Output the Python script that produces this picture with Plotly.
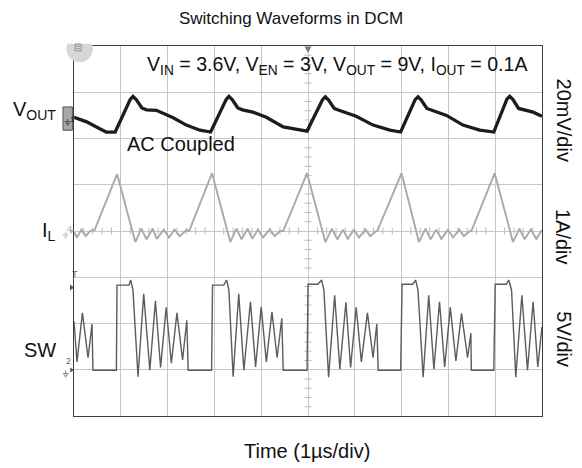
import numpy as np
import plotly.graph_objects as go

# ---------------- data (time in µs at 1 µs/div, amplitude in screen divisions) ----------------
vout_t = [0.00, 0.27, 0.55, 0.69, 0.88,
          1.20, 1.26, 1.33, 1.45, 1.55, 1.76, 2.12, 2.40, 2.69, 2.92,
          3.25, 3.31, 3.38, 3.50, 3.60, 3.82, 4.11, 4.47, 4.82, 4.98,
          5.31, 5.37, 5.44, 5.56, 5.66, 6.03, 6.39, 6.75, 6.98,
          7.29, 7.35, 7.42, 7.54, 7.64, 7.96, 8.31, 8.67, 8.97,
          9.25, 9.31, 9.38, 9.50, 9.60, 9.81, 10.0]
vout_v = [6.46, 6.36, 6.21, 6.14, 6.14,
          6.84, 6.91, 6.84, 6.66, 6.62, 6.61, 6.45, 6.29, 6.18, 6.14,
          6.84, 6.91, 6.84, 6.66, 6.62, 6.57, 6.46, 6.25, 6.18, 6.16,
          6.84, 6.90, 6.83, 6.65, 6.61, 6.48, 6.29, 6.18, 6.14,
          6.84, 6.90, 6.83, 6.65, 6.61, 6.50, 6.29, 6.18, 6.14,
          6.85, 6.91, 6.84, 6.65, 6.62, 6.57, 6.48]

il_t = [0.00, 0.064, 0.16, 0.25, 0.35, 0.44,
        0.92, 1.31,
        1.44, 1.55, 1.68, 1.77, 1.92, 2.03, 2.15, 2.26, 2.40, 2.46,
        2.95, 3.34,
        3.47, 3.58, 3.71, 3.81, 3.93, 4.04, 4.18, 4.29, 4.40, 4.47,
        4.98, 5.37,
        5.51, 5.63, 5.75, 5.85, 5.98, 6.09, 6.23, 6.33, 6.46, 6.48,
        7.00, 7.37,
        7.51, 7.62, 7.74, 7.85, 7.99, 8.10, 8.23, 8.33, 8.46, 8.49,
        8.99, 9.38,
        9.52, 9.63, 9.76, 9.88, 10.0]
il_v = [3.98, 3.86, 4.03, 3.89, 4.01, 4.02,
        5.23, 3.76,
        4.05, 3.82, 4.05, 3.83, 4.03, 3.86, 4.03, 3.89, 4.02, 4.00,
        5.25, 3.76,
        4.05, 3.82, 4.05, 3.83, 4.03, 3.86, 4.03, 3.89, 4.00, 4.00,
        5.25, 3.76,
        4.05, 3.82, 4.03, 3.83, 4.03, 3.86, 4.03, 3.89, 4.00, 4.00,
        5.25, 3.76,
        4.05, 3.82, 4.03, 3.83, 4.03, 3.86, 4.03, 3.89, 4.00, 4.00,
        5.25, 3.76,
        4.05, 3.82, 4.03, 3.83, 4.02]

sw_t = [0.00, 0.064, 0.18, 0.30, 0.385, 0.405,
        0.906, 0.919, 1.175, 1.21, 1.26,
        1.368, 1.49, 1.62, 1.74, 1.85, 1.97, 2.08, 2.20, 2.32, 2.41, 2.44,
        2.94, 2.96, 3.20, 3.26, 3.31,
        3.40, 3.52, 3.63, 3.77, 3.88, 4.00, 4.11, 4.23, 4.34, 4.44, 4.47,
        4.98, 5.00, 5.21, 5.29, 5.34,
        5.44, 5.57, 5.68, 5.81, 5.91, 6.03, 6.14, 6.27, 6.39, 6.47, 6.50,
        6.98, 7.01, 7.24, 7.30, 7.35,
        7.46, 7.58, 7.69, 7.81, 7.92, 8.04, 8.16, 8.28, 8.41, 8.48, 8.49,
        8.97, 9.00, 9.24, 9.29, 9.35,
        9.44, 9.57, 9.69, 9.81, 9.91, 10.0]
sw_v = [2.05, 1.17, 2.23, 1.26, 1.99, 0.99,
        0.99, 2.83, 2.83, 2.94, 2.72,
        0.85, 2.64, 0.99, 2.49, 1.05, 2.35, 1.14, 2.23, 1.21, 2.07, 0.99,
        0.99, 2.83, 2.83, 2.94, 2.72,
        0.85, 2.64, 0.99, 2.47, 1.06, 2.36, 1.17, 2.25, 1.26, 2.11, 0.99,
        0.99, 2.85, 2.85, 2.94, 2.72,
        0.84, 2.61, 1.01, 2.46, 1.05, 2.35, 1.17, 2.23, 1.26, 1.99, 0.99,
        0.99, 2.85, 2.85, 2.94, 2.72,
        0.84, 2.61, 1.01, 2.47, 1.06, 2.35, 1.19, 2.22, 1.26, 1.79, 0.99,
        0.99, 2.85, 2.85, 2.94, 2.72,
        0.84, 2.61, 0.99, 2.47, 1.06, 1.93]

n_xdiv, n_ydiv = 10, 8
title_text = "Switching Waveforms in DCM"
cond_text = "V<sub>IN</sub> = 3.6V, V<sub>EN</sub> = 3V, V<sub>OUT</sub> = 9V, I<sub>OUT</sub> = 0.1A"
x_label = "Time (1µs/div)"
ch_names = ["V<sub>OUT</sub>", "I<sub>L</sub>", "SW"]
ch_scales = ["20mV/div", "1A/div", "5V/div"]

# ---------------- layout geometry ----------------
FW, FH = 582, 468
L, R, T, B = 74.3, 542.3, 45.7, 416.0
FONT = "Liberation Sans, Arial, sans-serif"


def px(x):  # pixel -> paper x
    return (x - L) / (R - L)


def py(y):  # pixel -> paper y
    return (B - y) / (B - T)


fig = go.Figure()

# minor ticks on the centre graticule lines
mx = [v for v in np.arange(0.2, n_xdiv, 0.2) if abs(v - round(v)) > 1e-6]
my = [v for v in np.arange(0.2, n_ydiv, 0.2) if abs(v - round(v)) > 1e-6]
fig.add_trace(go.Scatter(x=mx, y=[n_ydiv / 2] * len(mx), mode="markers",
                         marker=dict(symbol="line-ns", size=5, line=dict(width=1, color="#bdbdbd")),
                         hoverinfo="skip"))
fig.add_trace(go.Scatter(x=[n_xdiv / 2] * len(my), y=my, mode="markers",
                         marker=dict(symbol="line-ew", size=5, line=dict(width=1, color="#bdbdbd")),
                         hoverinfo="skip"))

fig.add_trace(go.Scatter(x=il_t, y=il_v, mode="lines", line=dict(color="#a9a9a9", width=1.9)))
fig.add_trace(go.Scatter(x=sw_t, y=sw_v, mode="lines", line=dict(color="#5c5c5c", width=1.4)))
fig.add_trace(go.Scatter(x=vout_t, y=vout_v, mode="lines", line=dict(color="#1c1c1c", width=3.3)))

shapes = []
# top-left scope badge
shapes.append(dict(type="circle", xref="paper", yref="paper", x0=px(66.7), x1=px(93.3),
                   y0=py(61.8), y1=py(35.2), fillcolor="#d6d6d6", line=dict(width=0), layer="above"))
shapes.append(dict(type="rect", xref="paper", yref="paper", x0=px(60), x1=px(100),
                   y0=py(43.4), y1=py(30), fillcolor="white", line=dict(width=0), layer="above"))
shapes.append(dict(type="rect", xref="paper", yref="paper", x0=px(75.5), x1=px(81.5),
                   y0=py(50.5), y1=py(43.8), fillcolor="rgba(0,0,0,0)", line=dict(width=1, color="#8a8a8a"),
                   layer="above"))
for yy in (46.0, 48.2):
    shapes.append(dict(type="line", xref="paper", yref="paper", x0=px(76.7), x1=px(80.3),
                       y0=py(yy), y1=py(yy), line=dict(width=0.8, color="#8a8a8a"), layer="above"))
# trigger position marker on top edge
shapes.append(dict(type="path", xref="paper", yref="paper",
                   path=f"M {px(304.8)} {py(46.2)} L {px(311.8)} {py(46.2)} L {px(308.3)} {py(52.5)} Z",
                   fillcolor="#7a7a7a", line=dict(width=0), layer="above"))
# channel 1 (VOUT) badge
shapes.append(dict(type="rect", xref="paper", yref="paper", x0=px(63.3), x1=px(72.7),
                   y0=py(130), y1=py(106.7), fillcolor="#a8a8a8", line=dict(width=1, color="#555"),
                   layer="above"))
shapes.append(dict(type="path", xref="paper", yref="paper",
                   path=f"M {px(72.7)} {py(114.5)} L {px(75.5)} {py(117)} L {px(72.7)} {py(119.5)} Z",
                   fillcolor="#444", line=dict(width=0), layer="above"))


def ground(xc, ytop, col):
    out = [dict(type="line", xref="paper", yref="paper", x0=px(xc), x1=px(xc), y0=py(ytop - 3), y1=py(ytop),
                line=dict(width=0.8, color=col), layer="above")]
    for i, hw in enumerate((3.0, 2.0, 1.0)):
        yy = ytop + 1.6 * i
        out.append(dict(type="line", xref="paper", yref="paper", x0=px(xc - hw), x1=px(xc + hw),
                        y0=py(yy), y1=py(yy), line=dict(width=0.8, color=col), layer="above"))
    return out


shapes += ground(68.0, 121.5, "#333")
# channel 4 (IL) marker
shapes += ground(66.0, 234.5, "#b0b0b0")
shapes.append(dict(type="path", xref="paper", yref="paper",
                   path=f"M {px(70.5)} {py(228.5)} L {px(74.3)} {py(231)} L {px(70.5)} {py(233.5)} Z",
                   fillcolor="#b0b0b0", line=dict(width=0), layer="above"))
# trigger level marker
shapes.append(dict(type="path", xref="paper", yref="paper",
                   path=f"M {px(70.3)} {py(284.3)} L {px(74.3)} {py(287.3)} L {px(70.3)} {py(290.3)} Z",
                   fillcolor="#555", line=dict(width=0), layer="above"))
# channel 2 (SW) marker
shapes += ground(66.0, 373.5, "#666")
shapes.append(dict(type="path", xref="paper", yref="paper",
                   path=f"M {px(70.5)} {py(367.5)} L {px(74.3)} {py(370)} L {px(70.5)} {py(372.5)} Z",
                   fillcolor="#555", line=dict(width=0), layer="above"))

ann = []
base = dict(xref="paper", yref="paper", showarrow=False, font=dict(family=FONT, size=20, color="#111"))
ann.append({**base, "text": cond_text, "x": px(530), "y": py(65), "xanchor": "right", "yanchor": "middle",
            "font": dict(family=FONT, size=19.6, color="#111")})
ann.append({**base, "text": "AC Coupled", "x": px(125), "y": py(143.5), "xanchor": "left", "yanchor": "middle"})
ann.append({**base, "text": ch_names[0], "x": px(58), "y": py(110), "xanchor": "right", "yanchor": "middle"})
ann.append({**base, "text": ch_names[1], "x": px(58), "y": py(231), "xanchor": "right", "yanchor": "middle"})
ann.append({**base, "text": ch_names[2], "x": px(58), "y": py(350), "xanchor": "right", "yanchor": "middle"})
for txt, yc in zip(ch_scales, (120, 236.5, 339)):
    ann.append({**base, "text": txt, "x": px(564), "y": py(yc), "xanchor": "center", "yanchor": "middle",
                "textangle": 90})
ann.append({**base, "text": x_label, "x": px(307), "y": py(451.5), "xanchor": "center", "yanchor": "middle"})
small = dict(xref="paper", yref="paper", showarrow=False)
ann.append({**small, "text": "1", "x": px(68), "y": py(113), "font": dict(family=FONT, size=8, color="#222")})
ann.append({**small, "text": "4", "x": px(65.5), "y": py(229), "font": dict(family=FONT, size=9, color="#b0b0b0")})
ann.append({**small, "text": "T", "x": px(70), "y": py(274), "font": dict(family=FONT, size=9, color="#666")})
ann.append({**small, "text": "2", "x": px(64.5), "y": py(368), "font": dict(family=FONT, size=9, color="#666")})

axis_common = dict(showgrid=True, gridcolor="#c6c6c6", gridwidth=1, zeroline=False, showticklabels=False,
                   ticks="", showline=True, mirror=True, linecolor="#3c3c3c", linewidth=1.3, fixedrange=True)
fig.update_layout(
    width=FW, height=FH, autosize=False,
    margin=dict(l=L, r=FW - R, t=T, b=FH - B, pad=0),
    paper_bgcolor="white", plot_bgcolor="white", showlegend=False,
    title=dict(text=title_text, x=0.5, xref="container", xanchor="center",
               y=1 - 18 / FH, yref="container", yanchor="middle",
               font=dict(family=FONT, size=17, color="#111")),
    xaxis=dict(range=[0, n_xdiv], dtick=1, tick0=0, **axis_common),
    yaxis=dict(range=[0, n_ydiv], dtick=1, tick0=0, **axis_common),
    shapes=shapes, annotations=ann,
)
fig.write_html("out.html", config={"displayModeBar": False},
               post_script="document.body.style.margin='0';document.body.style.overflow='hidden';")
